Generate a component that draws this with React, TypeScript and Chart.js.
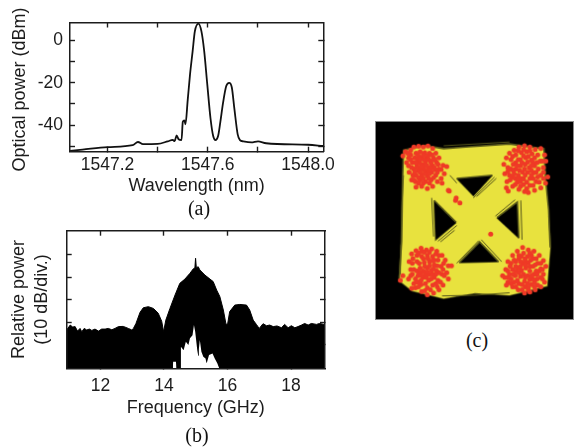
import React, { useEffect, useRef } from "react";
import { Chart, registerables } from "chart.js";
Chart.register(...registerables);

// ---- panel (a): optical spectrum
const wavelength = [1547.05,1547.1,1547.2,1547.3,1547.3213,1547.3413,1547.3996,1547.44,1547.46,1547.4677,1547.4755,1547.4834,1547.4951,1547.5002,1547.5068,1547.5108,1547.5198,1547.5288,1547.5393,1547.5483,1547.5628,1547.5746,1547.5851,1547.598,1547.611,1547.6215,1547.6305,1547.6411,1547.6501,1547.6607,1547.6736,1547.6853,1547.6959,1547.7064,1547.7193,1547.7283,1547.7417,1547.7742,1547.8004,1547.8329,1548.0,1548.06];
const opticalPower = [-52.2,-51.6,-50.4,-49.5,-48,-49,-48.9,-47.7,-47,-47.6,-44.9,-46.7,-47.1,-38.5,-37.8,-39.6,-28.2,-16.3,-5.2,4.4,8.1,4.4,-4.4,-20.8,-37,-45.2,-47.1,-45.2,-38.5,-29.6,-21.5,-20,-22.2,-32.6,-44.4,-47.1,-47.7,-48.2,-47.7,-48.6,-49.3,-49.9];
const wavelengthTicks = [1547.2,1547.4,1547.6,1547.8,1548.0];
const wavelengthLabels = ["1547.2","","1547.6","","1548.0"];
const powerTicks = [-50,-40,-30,-20,-10,0];
const powerLabels = ["","-40","","-20","","0"];

// ---- panel (b): RF spectrum
const frequency = [10.94,11.05,11.13,11.205,11.28,11.36,11.415,11.49,11.57,11.655,11.73,11.83,11.94,12.04,12.15,12.25,12.36,12.46,12.57,12.72,12.88,12.99,13.04,13.12,13.25,13.35,13.51,13.67,13.82,13.93,13.99,14.06,14.19,14.35,14.5,14.66,14.82,14.92,14.975,14.996,15.02,15.08,15.13,15.29,15.45,15.55,15.66,15.76,15.87,15.95,16.0,16.07,16.23,16.39,16.6,16.7,16.81,16.91,17.0,17.12,17.23,17.33,17.44,17.56,17.7,17.8,17.91,18.01,18.12,18.22,18.33,18.43,18.54,18.64,18.8,18.9,19.04];
const relativePower = [-43.5,-41.3,-42.2,-42,-44,-42.8,-44.3,-42.8,-43.5,-43.1,-43.7,-43.1,-44,-43.1,-43.1,-42.8,-43.4,-42.8,-42,-41.9,-42.8,-43.5,-42.8,-40.6,-35.6,-33.6,-33.1,-33.9,-36,-39.6,-44.3,-39.1,-33.9,-27.9,-22.7,-20.8,-18.2,-16.3,-15.7,-11.5,-15.7,-15.3,-16.7,-19,-20.8,-21.9,-25.7,-28.6,-34.6,-40.6,-41.3,-35.3,-32.4,-32.1,-32.4,-34.6,-39.1,-41,-42.8,-40.7,-41.6,-41.3,-42,-41.7,-42.5,-41,-42.5,-41.6,-42.5,-42,-41.3,-40.6,-41.3,-40.6,-41,-40.6,-41];
const holeFrequency = [14.28,14.29,14.38,14.39,14.52,14.535,14.62,14.69,14.77,14.82,14.9,14.945,14.985,15.03,15.05,15.08,15.1,15.13,15.18,15.24,15.31,15.34,15.36,15.42,15.53,15.6,15.68,15.74];
const holePower = [-60.6,-57.7,-57.7,-60.6,-60.6,-51,-52.5,-48.7,-50.2,-47.2,-45.8,-41.3,-44.3,-50,-52.5,-55,-52,-48,-53.2,-55.4,-56.2,-58.4,-57.7,-54.7,-54,-56.2,-58.4,-60.6];
const freqTicks = [12,14,16,18];
const divTicks = [-50,-40,-30,-20,-10];

// ---- panel (c): eye / constellation
const outerTop = [[88,525],[96,400],[99,200],[102,110],[170,95],[230,105],[300,100],[440,90],[550,105],[555,200],[565,300],[570,420]];
const outerBottom = [[88,525],[130,558],[230,582],[330,565],[440,572],[560,542],[570,420]];
const topEyeUpper = [[272,200],[385,190]];
const topEyeLower = [[272,200],[325,255],[385,190]];
const leftEyeUpper = [[200,270],[270,340]];
const leftEyeLower = [[200,270],[205,395],[270,340]];
const rightEyeUpper = [[400,325],[465,275],[470,390]];
const rightEyeLower = [[400,325],[470,390]];
const bottomEyeUpper = [[280,468],[345,402],[405,465]];
const bottomEyeLower = [[280,468],[405,465]];
const traceLines = [
  [[325,262],[392,196]], [[335,258],[398,200]], [[250,190],[272,215]],
  [[192,262],[198,385]], [[212,400],[272,350]], [[220,402],[265,365]],
  [[272,470],[342,398]], [[350,395],[415,465]], [[476,270],[480,395]],
  [[395,320],[458,268]], [[92,505],[96,300],[102,190]], [[88,515],[94,410]],
  [[225,574],[330,572],[440,564]], [[230,96],[440,84]], [[565,320],[572,420]],
];
const symbolsTL = [[100,128],[108,115],[118,135],[112,150],[125,110],[135,100],[150,98],[165,100],[180,97],[195,105],[205,120],[215,135],[228,158],[240,162],[232,185],[222,200],[210,210],[195,225],[178,232],[160,225],[142,228],[128,205],[120,180],[132,190],[130,150],[125,125],[142,120],[155,115],[170,118],[185,120],[198,135],[208,150],[215,170],[205,190],[190,205],[172,210],[155,205],[142,190],[135,170],[148,140],[160,135],[175,135],[188,145],[195,160],[192,180],[178,192],[160,190],[150,175],[145,160],[160,155],[172,150],[182,165],[170,175],[158,170],[168,162],[180,178],[152,150],[203,172],[140,210],[118,160],[245,238],[225,215],
  [138,135],[150,128],[165,125],[180,128],[192,125],[202,142],[212,155],[222,172],[210,180],[198,198],[182,200],[165,200],[150,198],[138,180],[128,165],[140,150],[155,140],[168,140],[182,140],[190,152],[200,165],[185,185],[170,185],[155,180],[148,168],[160,162],[175,158],[188,172],[165,215],[150,215],[185,215],[125,140],[115,120],[135,205]];
const symbolsTR = [[422,155],[430,135],[440,120],[455,110],[470,100],[488,96],[505,100],[522,108],[540,105],[552,125],[556,145],[548,165],[562,195],[555,215],[540,230],[520,238],[500,245],[488,242],[470,235],[450,225],[432,210],[425,185],[440,190],[430,230],[445,140],[460,125],[478,118],[495,115],[512,122],[530,125],[538,145],[532,170],[540,190],[525,210],[505,222],[485,220],[465,212],[450,195],[445,170],[460,150],[475,140],[492,135],[510,142],[520,160],[518,182],[505,200],[485,202],[468,190],[460,170],[475,160],[490,155],[503,165],[498,180],[482,180],[472,175],[488,170],[455,185],[530,195],[510,175],[478,200],[436,240],[548,200],
  [435,165],[450,130],[468,112],[485,108],[505,112],[520,135],[528,150],[545,145],[548,180],[535,212],[515,222],[495,232],[475,225],[458,220],[442,205],[435,178],[452,155],[468,140],[485,128],[500,130],[515,150],[525,180],[515,200],[495,212],[475,210],[458,200],[452,175],[465,160],[480,150],[498,148],[510,160],[510,190],[490,190],[470,200]];
const symbolsBL = [[92,525],[100,510],[125,490],[120,465],[128,440],[142,430],[158,422],[175,428],[192,425],[208,432],[225,445],[235,460],[245,478],[255,478],[240,500],[245,520],[228,540],[215,555],[198,565],[178,570],[160,560],[140,548],[128,550],[118,520],[140,520],[135,490],[145,465],[160,448],[178,445],[195,448],[212,460],[222,480],[225,505],[212,525],[195,540],[178,548],[158,538],[148,510],[155,485],[168,468],[185,465],[200,475],[208,495],[200,515],[182,525],[165,515],[165,495],[178,485],[192,492],[185,505],[172,505],[150,530],[210,545],[130,470],[160,432],[230,470],[195,505],[178,498],[205,440],[145,445],
  [130,505],[132,455],[150,438],[168,435],[185,435],[200,460],[215,445],[228,490],[232,510],[220,530],[205,535],[188,555],[170,558],[150,545],[135,535],[125,510],[145,495],[152,470],[165,455],[180,455],[195,462],[210,478],[215,500],[205,505],[190,520],[172,535],[158,525],[155,500],[170,480],[185,478],[198,488],[175,515],[160,510],[145,530]];
const symbolsBR = [[418,510],[428,490],[435,465],[450,445],[465,432],[482,420],[500,428],[518,432],[535,445],[548,462],[556,480],[548,505],[552,530],[540,545],[522,555],[505,562],[488,565],[468,555],[450,545],[435,530],[425,515],[445,520],[450,490],[460,465],[478,448],[498,448],[515,455],[530,470],[535,495],[528,520],[510,538],[490,545],[470,535],[458,510],[468,485],[482,470],[500,468],[515,480],[518,505],[505,522],[488,528],[475,512],[478,492],[492,485],[505,495],[498,510],[485,505],[440,505],[530,540],[545,520],[470,445],[510,445],[455,530],[540,488],[490,455],[525,495],[430,540],[500,555],[445,470],[520,530],
  [435,495],[442,480],[455,460],[470,455],[485,438],[505,438],[525,455],[540,470],[545,490],[540,515],[520,545],[500,548],[480,555],[460,545],[445,535],[435,515],[452,505],[460,480],[475,465],[490,462],[508,460],[522,475],[528,505],[515,520],[498,535],[480,538],[465,525],[460,495],[475,480],[490,475],[505,480],[510,510],[490,515],[470,500]];
const strayPoints = [[270,262],[282,278],[268,270],[380,377],[248,240]];

const INK = "#1c1c1c";
const SANS = "'Liberation Sans', Arial, sans-serif";
const TICK = 5;

const xy = (xs: number[], ys: number[]) => xs.map((x, i) => ({ x, y: ys[i] }));
const pts = (list: number[][]) => list.map(([x, y]) => ({ x, y }));

function axis(position: string, min: number, max: number, ticks: number[], size: number, extra: any = {}) {
  return {
    type: "linear",
    position,
    min,
    max,
    border: { display: true, color: INK, width: 1.5, z: 1 },
    grid: { drawOnChartArea: false, drawTicks: true, tickLength: -TICK, tickWidth: 1.4, tickColor: INK },
    ticks: { display: false, autoSkip: false, maxRotation: 0, font: { family: SANS, size: 17.5 }, color: INK },
    afterBuildTicks: (s: any) => { s.ticks = ticks.map((value) => ({ value })); },
    afterFit: (s: any) => {
      if (position === "left" || position === "right") s.width = size;
      else s.height = size;
    },
    ...extra,
  };
}

function labelled(labels: (string | number)[], padding: number) {
  return {
    display: true, autoSkip: false, maxRotation: 0, padding,
    font: { family: SANS, size: 17.5 }, color: INK,
    callback: (_v: any, i: number) => labels[i],
  };
}

function axisTitle(text: string | string[], pad: any, lineHeight = 1.2) {
  return { display: true, text, color: INK, padding: pad, font: { family: SANS, size: 18, lineHeight } };
}

const base = {
  responsive: false,
  animation: false,
  layout: { padding: 0 },
  plugins: { legend: { display: false }, tooltip: { enabled: false }, title: { display: false } },
};

function configA(): any {
  return {
    type: "line",
    data: {
      datasets: [{
        data: xy(wavelength, opticalPower), borderColor: "#111", borderWidth: 1.8,
        pointRadius: 0, cubicInterpolationMode: "monotone", fill: false,
      }],
    },
    options: {
      ...base,
      scales: {
        x: axis("bottom", 1547.05, 1548.061, wavelengthTicks, 48.3, {
          ticks: labelled(wavelengthLabels, 3 + TICK),
          title: axisTitle("Wavelength (nm)", { top: 0, bottom: 3 }),
        }),
        xTop: axis("top", 1547.05, 1548.061, wavelengthTicks, 14),
        y: axis("left", -52.6, 8.6, powerTicks, 70, {
          ticks: labelled(powerLabels, 7 + TICK),
          title: axisTitle("Optical power (dBm) ", { top: 9, bottom: 9 }),
        }),
        yRight: axis("right", -52.6, 8.6, powerTicks, 21.7),
      },
    },
  };
}

function configB(): any {
  return {
    type: "line",
    data: {
      datasets: [
        {
          data: xy(holeFrequency, holePower), borderWidth: 0, borderColor: "#fff", backgroundColor: "#fff",
          pointRadius: 0, fill: "start", order: 0,
        },
        {
          data: xy(frequency, relativePower), borderWidth: 1, borderColor: "#000", backgroundColor: "#000",
          pointRadius: 0, fill: "start", order: 1,
        },
      ],
    },
    options: {
      ...base,
      scales: {
        x: axis("bottom", 10.94, 19.07, freqTicks, 53.7, {
          ticks: labelled(freqTicks, 7 + TICK),
          title: axisTitle("Frequency (GHz)", { top: 0, bottom: 3 }),
        }),
        xTop: axis("top", 10.94, 19.07, freqTicks, 8.7),
        y: axis("left", -60.6, 0.8, divTicks, 66.7, {
          title: axisTitle(["Relative power", "(10 dB/div.)"], { top: 7, bottom: 7 }, 1.3),
        }),
        yRight: axis("right", -60.6, 0.8, divTicks, 20),
      },
    },
  };
}

function configC(): any {
  const OLIVE = "#55551a";
  const YELLOW = "#e8e23e";
  const EYE = "#000";
  const edge = (list: number[][], fill: any, bg: string, order: number) => ({
    data: pts(list), borderColor: OLIVE, borderWidth: 1.6, backgroundColor: bg,
    pointRadius: 0, fill, order,
  });
  const red = (list: number[][]) => ({
    type: "scatter", data: pts(list), pointRadius: 2.5, pointBackgroundColor: "#ef3a26",
    pointBorderWidth: 0, order: 0,
  });
  const trace = (list: number[][]) => ({
    data: pts(list), borderColor: OLIVE, borderWidth: 1, pointRadius: 0, fill: false, order: 0.5,
  });
  return {
    type: "line",
    data: {
      datasets: [
        edge(outerTop, "+1", YELLOW, 5), edge(outerBottom, false, YELLOW, 5),
        edge(topEyeUpper, "+1", EYE, 4), edge(topEyeLower, false, EYE, 4),
        edge(leftEyeUpper, "+1", EYE, 3), edge(leftEyeLower, false, EYE, 3),
        edge(rightEyeUpper, "+1", EYE, 2), edge(rightEyeLower, false, EYE, 2),
        edge(bottomEyeUpper, "+1", EYE, 1), edge(bottomEyeLower, false, EYE, 1),
        ...traceLines.map(trace),
        red(symbolsTL), red(symbolsTR), red(symbolsBL), red(symbolsBR), red(strayPoints),
      ],
    },
    options: {
      ...base,
      scales: {
        x: { type: "linear", min: 27, max: 630, display: false },
        y: { type: "linear", min: 33, max: 635, reverse: true, display: false },
      },
    },
  };
}

function Panel({ config, style, width, height }: any) {
  const ref = useRef<HTMLCanvasElement>(null);
  useEffect(() => {
    const chart = new Chart(ref.current as any, config());
    return () => chart.destroy();
  }, [config]);
  return <canvas ref={ref} width={width} height={height} style={{ position: "absolute", display: "block", width, height, ...style }} />;
}

function Caption({ text, x, y }: { text: string; x: number; y: number }) {
  return (
    <span style={{
      position: "absolute", left: x, top: y, transform: "translate(-50%,-50%)",
      font: "20px 'Liberation Serif', serif", color: "#111", whiteSpace: "nowrap",
    }}>{text}</span>
  );
}

export default function App() {
  return (
    <div style={{ position: "absolute", left: 0, top: 0, width: 576, height: 447, overflow: "hidden", background: "#fff" }}>
      <Panel config={configA} width={345} height={200} style={{ left: 0, top: 0, filter: "blur(0.35px)" }} />
      <Panel config={configB} width={345} height={200} style={{ left: 0, top: 222, filter: "blur(0.35px)" }} />
      <Panel config={configC} width={199} height={199}
        style={{ left: 375, top: 121, background: "#000", border: "1px solid #8a8a8a", filter: "blur(0.5px)" }} />
      <Caption text="(a)" x={199} y={208} />
      <Caption text="(b)" x={197} y={435} />
      <Caption text="(c)" x={477} y={340} />
    </div>
  );
}
